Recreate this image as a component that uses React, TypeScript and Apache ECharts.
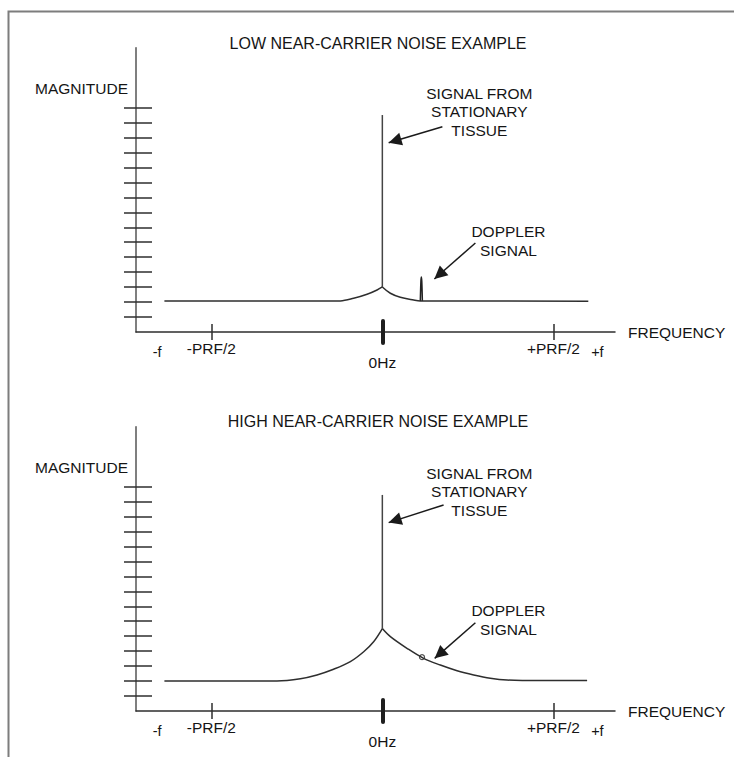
import React, { useEffect, useRef } from 'react';
import * as echarts from 'echarts';

// ---------- text ----------
const chartTitles = ['LOW NEAR-CARRIER NOISE EXAMPLE', 'HIGH NEAR-CARRIER NOISE EXAMPLE'];
const yAxisName = 'MAGNITUDE';
const xAxisName = 'FREQUENCY';
const stationaryText = 'SIGNAL FROM\nSTATIONARY\nTISSUE';
const dopplerText = 'DOPPLER\nSIGNAL';

// ---------- axes (frequency in units of PRF/2, magnitude in tick steps) ----------
const xRange = [-1.44, 1.36];
const yRange = [0, 19];
const yTickValues = [1, 2, 3, 4, 5, 6, 7, 8, 9, 10, 11, 12, 13, 14, 15];
const xTickValues = [-1, 1];
const carrierTickValues = [0];
const xLabelValues = [-1.316, -1, 0, 1, 1.257];
const xLabelTexts = ['-f', '-PRF/2', '0Hz', '+PRF/2', '+f'];

// ---------- low near-carrier noise ----------
const lowLeftSkirt = [[-1.274, 2.07], [-0.2455, 2.08], [-0.168, 2.25], [-0.0894, 2.52], [-0.031, 2.81], [0, 3.01]];
const lowCarrier = [[0, 3.01], [0, 14.5]];
const lowRightSkirt = [[0, 3.01], [0.0468, 2.59], [0.105, 2.32], [0.183, 2.14], [0.222, 2.08], [1.204, 2.06]];
const lowDoppler = [[0.222, 2.08], [0.2255, 3.4], [0.228, 3.68], [0.2305, 3.4], [0.234, 2.08]];

// ---------- high near-carrier noise ----------
const highLeftSkirt = [[-1.274, 2.01], [-0.616, 2.01], [-0.479, 2.16], [-0.382, 2.41], [-0.285, 2.79], [-0.187, 3.3], [-0.109, 3.96], [-0.051, 4.63], [0, 5.51]];
const highCarrier = [[0, 5.51], [0, 14.44]];
const highRightSkirt = [[0, 5.51], [0.047, 4.97], [0.144, 4.19], [0.241, 3.52], [0.339, 3.07], [0.437, 2.69], [0.534, 2.41], [0.631, 2.19], [0.729, 2.07], [0.924, 2.03], [1.197, 2.03]];
const highDoppler = [[0.232, 3.6]];

// ---------- annotations (data coords) ----------
const stationaryLabelAt = [[0.567, 14.71], [0.567, 14.66]];
const stationaryArrow = [[[0.351, 13.72], [0.037, 12.65]], [[0.358, 13.77], [0.037, 12.59]]];
const dopplerLabelAt = [[0.737, 6.09], [0.737, 6.08]];
const dopplerArrow = [[[0.544, 5.95], [0.304, 3.54]], [[0.544, 5.9], [0.306, 3.52]]];

const FONT = '"Liberation Sans", Arial, Helvetica, sans-serif';
const TEXT = '#151515';
const LINE = '#2e2e2e';
const FS = 15.5;
const TITLE_FS = 16;

function buildOption() {
  const gridTops = [47.7, 426.7];
  const grids = gridTops.map((t) => ({ left: 136, top: t, width: 479, height: 284.3, containLabel: false, outerBoundsMode: 'none' }));

  const xAxes: any[] = [];
  const yAxes: any[] = [];
  gridTops.forEach((_, g) => {
    const base = { gridIndex: g, type: 'value', min: xRange[0], max: xRange[1], position: 'bottom', splitLine: { show: false } };
    xAxes.push({
      ...base,
      axisLine: { show: true, onZero: false, lineStyle: { color: LINE, width: 1.5 } },
      axisTick: { show: true, customValues: xTickValues, length: 8, inside: false, lineStyle: { color: LINE, width: 1.5 } },
      axisLabel: {
        show: true,
        customValues: xLabelValues,
        margin: 8,
        color: TEXT,
        fontFamily: FONT,
        fontSize: FS,
        formatter: (v: number) => {
          const i = xLabelValues.findIndex((x) => Math.abs(x - v) < 1e-6);
          if (i < 0) return '';
          const key = i === 2 ? 'z' : i === 0 || i === 4 ? 'e' : 'm';
          return '{' + key + '|' + xLabelTexts[i] + '}';
        },
        rich: {
          m: { fontFamily: FONT, fontSize: FS, color: TEXT },
          e: { fontFamily: FONT, fontSize: FS - 1, color: TEXT, padding: [4, 0, 0, 0] },
          z: { fontFamily: FONT, fontSize: FS, color: TEXT, padding: [14, 0, 0, 0] },
        },
      },
      name: xAxisName,
      nameLocation: 'end',
      nameGap: 13,
      nameMoveOverlap: false,
      nameTextStyle: { color: TEXT, fontFamily: FONT, fontSize: FS, align: 'left', verticalAlign: 'middle', padding: [32, 0, 0, 0] },
    });
    xAxes.push({
      ...base,
      axisLine: { show: false, onZero: false },
      axisTick: { show: true, customValues: xTickValues, length: 8, inside: true, lineStyle: { color: LINE, width: 1.5 } },
      axisLabel: { show: false },
    });
    xAxes.push({
      ...base,
      axisLine: { show: false, onZero: false },
      axisTick: { show: true, customValues: carrierTickValues, length: 11, inside: false, lineStyle: { color: '#1e1e1e', width: 4, cap: 'round' } },
      axisLabel: { show: false },
    });
    xAxes.push({
      ...base,
      axisLine: { show: false, onZero: false },
      axisTick: { show: true, customValues: carrierTickValues, length: 11, inside: true, lineStyle: { color: '#1e1e1e', width: 4, cap: 'round' } },
      axisLabel: { show: false },
    });

    const ybase = { gridIndex: g, type: 'value', min: yRange[0], max: yRange[1], position: 'left', splitLine: { show: false } };
    yAxes.push({
      ...ybase,
      axisLine: { show: true, onZero: false, lineStyle: { color: '#555', width: 1.5 } },
      axisTick: { show: true, customValues: yTickValues, length: 12, inside: false, lineStyle: { color: LINE, width: 1.5 } },
      axisLabel: { show: false },
      name: yAxisName,
      nameLocation: 'end',
      nameGap: -41,
      nameMoveOverlap: false,
      nameTextStyle: { color: TEXT, fontFamily: FONT, fontSize: FS, align: 'right', verticalAlign: 'middle', padding: [0, 8, 0, 0] },
    });
    yAxes.push({
      ...ybase,
      axisLine: { show: false, onZero: false },
      axisTick: { show: true, customValues: yTickValues, length: 16, inside: true, lineStyle: { color: LINE, width: 1.5 } },
      axisLabel: { show: false },
    });
  });

  const panels = [
    { left: lowLeftSkirt, carrier: lowCarrier, right: lowRightSkirt, doppler: lowDoppler, dopplerScatter: false },
    { left: highLeftSkirt, carrier: highCarrier, right: highRightSkirt, doppler: highDoppler, dopplerScatter: true },
  ];

  const series: any[] = [];
  panels.forEach((p, g) => {
    const axes = { xAxisIndex: g * 4, yAxisIndex: g * 2 };
    const lineBase = { ...axes, type: 'line', showSymbol: false, symbol: 'none', silent: true, clip: false };
    series.push({ ...lineBase, name: 'noise-left-' + g, data: p.left, smooth: 0.35, lineStyle: { color: LINE, width: 1.5 } });
    series.push({
      ...lineBase,
      name: 'carrier-' + g,
      data: p.carrier,
      lineStyle: { color: '#444', width: 1.5 },
      markPoint: {
        silent: true,
        symbol: 'rect',
        symbolSize: 1,
        itemStyle: { color: 'transparent' },
        label: { show: true, position: 'inside', color: TEXT, fontFamily: FONT, fontSize: FS, lineHeight: 18.5, align: 'center', verticalAlign: 'middle' },
        data: [
          { coord: stationaryLabelAt[g], value: stationaryText, label: { formatter: stationaryText } },
          { coord: dopplerLabelAt[g], value: dopplerText, label: { formatter: dopplerText } },
        ],
      },
      markLine: {
        silent: true,
        symbol: ['none', 'triangle'],
        symbolSize: 13,
        symbolOffset: [0, [0, 6.5]],
        label: { show: false },
        lineStyle: { color: '#1a1a1a', width: 1.5, type: 'solid' },
        data: [
          [{ coord: stationaryArrow[g][0] }, { coord: stationaryArrow[g][1] }],
          [{ coord: dopplerArrow[g][0] }, { coord: dopplerArrow[g][1] }],
        ],
      },
    });
    series.push({ ...lineBase, name: 'noise-right-' + g, data: p.right, smooth: 0.35, lineStyle: { color: LINE, width: 1.5 } });
    if (p.dopplerScatter) {
      series.push({
        ...axes,
        type: 'scatter',
        name: 'doppler-' + g,
        data: p.doppler,
        symbol: 'circle',
        symbolSize: 5,
        silent: true,
        itemStyle: { color: '#fff', borderColor: '#222', borderWidth: 1.2 },
      });
    } else {
      series.push({ ...lineBase, name: 'doppler-' + g, data: p.doppler, smooth: 0.4, lineStyle: { color: '#222', width: 1.5 } });
    }
  });

  return {
    animation: false,
    backgroundColor: '#fff',
    textStyle: { fontFamily: FONT },
    title: chartTitles.map((t, i) => ({
      text: t,
      left: 378,
      top: i === 0 ? 35.5 : 413.5,
      textAlign: 'center',
      padding: 0,
      textStyle: { color: TEXT, fontFamily: FONT, fontSize: TITLE_FS, fontWeight: 'normal' },
    })),
    graphic: [
      {
        type: 'polyline',
        silent: true,
        shape: { points: [[8.5, 757], [8.5, 11.5], [734, 11.5]] },
        style: { stroke: '#7d7d7d', lineWidth: 2, fill: 'none' },
      },
    ],
    grid: grids,
    xAxis: xAxes,
    yAxis: yAxes,
    series,
  };
}

export default function App() {
  const ref = useRef<HTMLDivElement>(null);
  useEffect(() => {
    if (!ref.current) return;
    const chart = echarts.init(ref.current, undefined, { renderer: 'svg' });
    chart.setOption(buildOption() as any);
    return () => chart.dispose();
  }, []);
  return <div ref={ref} style={{ position: 'fixed', left: 0, top: 0, width: 734, height: 757 }} />;
}
